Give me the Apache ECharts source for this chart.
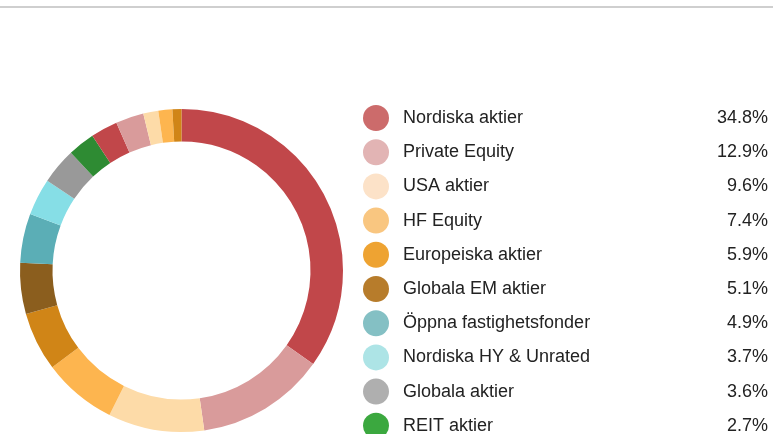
<!DOCTYPE html>
<html>
<head>
<meta charset="utf-8">
<script src="https://cdn.jsdelivr.net/npm/echarts@6/dist/echarts.min.js"></script>
<style>html,body{margin:0;padding:0;background:#fff}#c{width:773px;height:434px}</style>
</head>
<body>
<div id="c"></div>
<script>
// Legend categories and values (%)
const categories = ["Nordiska aktier","Private Equity","USA aktier","HF Equity","Europeiska aktier","Globala EM aktier","Öppna fastighetsfonder","Nordiska HY & Unrated","Globala aktier","REIT aktier"];
const values = [34.8, 12.9, 9.6, 7.4, 5.9, 5.1, 4.9, 3.7, 3.6, 2.7];
// Further slices visible in the ring but not in the (cropped) legend
const extraCategories = ["Övrigt 1","Övrigt 2","Övrigt 3","Övrigt 4","Övrigt 5"];
const extraValues = [2.7, 2.8, 1.5, 1.4, 0.9];

const sliceColors = ["#C1474A","#D99B9B","#FDDBA8","#FDB54F","#D08517","#8B5E1E","#5BAEB6","#86DEE6","#999999","#2E8B33"];
const extraColors = ["#C1474A","#D99B9B","#FDDBA8","#FDB54F","#D08517"];
const legendColors = ["#CC6B6B","#E2B4B4","#FCE2C8","#F9C680","#EEA332","#B77C2B","#84C0C4","#ADE4E6","#AFAFAF","#3BA83F"];

const data = categories.map((n,i)=>({name:n,value:values[i],itemStyle:{color:sliceColors[i]}}))
  .concat(extraCategories.map((n,i)=>({name:n,value:extraValues[i],itemStyle:{color:extraColors[i]}})));
const valMap = {};
categories.forEach((n,i)=>valMap[n]=values[i]);
const FONT = 'Liberation Sans, Arial, sans-serif';

const chart = echarts.init(document.getElementById('c'), null, {renderer:'canvas'});
chart.setOption({
  animation:false,
  graphic:[{type:'rect',shape:{x:0,y:6,width:773,height:2},style:{fill:'#cfcfcf'},silent:true}],
  legend:{
    orient:'vertical',
    left:358, top:100, height:420, width:420,
    icon:'circle',
    itemWidth:26, itemHeight:26, itemGap:8.2,
    selectedMode:false,
    data:categories.map((n,i)=>({name:n,itemStyle:{color:legendColors[i]}})),
    formatter:(name)=>`{s|}{n|${name}}{v|${valMap[name].toFixed(1)}%}`,
    textStyle:{
      fontFamily:FONT,
      fontSize:18,color:'#222',
      rich:{
        s:{width:9},
        n:{width:295,fontSize:18,color:'#222',fontFamily:FONT},
        v:{width:70,align:'right',fontSize:18,color:'#222',fontFamily:FONT}
      }
    }
  },
  series:[{
    type:'pie',
    center:[181.5,270.5],
    radius:[129,161.5],
    startAngle:90,
    clockwise:true,
    silent:true,
    label:{show:false},
    labelLine:{show:false},
    itemStyle:{borderWidth:0},
    data:data
  }]
});
</script>
</body>
</html>
